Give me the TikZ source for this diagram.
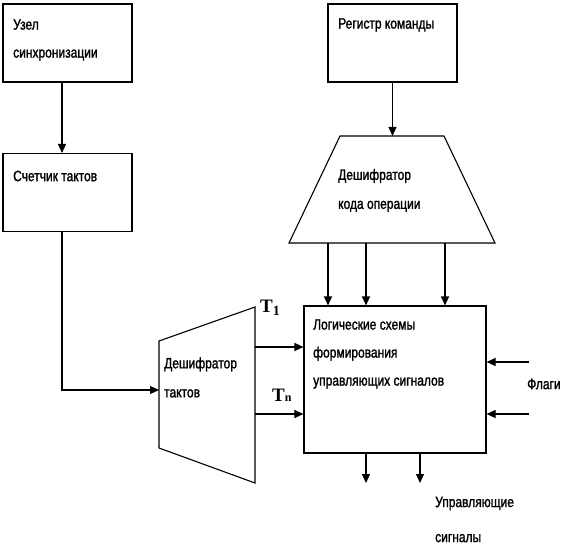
\documentclass[tikz,border=0pt]{standalone}
\usepackage{fontspec}
\setmainfont[FakeStretch=0.8,FakeBold=1.5]{Liberation Sans}
\newfontfamily\serifT{Liberation Serif}
\usetikzlibrary{arrows.meta}

\begin{document}
\begin{tikzpicture}[x=1pt,y=-1pt,
  box/.style={draw,line width=1.1pt,minimum width=129pt,minimum height=78pt,inner sep=0pt},
  lbl/.style={anchor=west,align=left,inner sep=0pt,font=\fontsize{15}{28}\selectfont},
  sig/.style={-{Triangle[length=9pt,width=8pt]},line width=1.1pt},
  tl/.style={anchor=west,inner sep=0pt,font=\serifT\bfseries\fontsize{19}{19}\selectfont}]
  \useasboundingbox (0,0) rectangle (580,548);
  % upper blocks
  \node[box] (sync) at (67.5,43) {};
  \node[box] (cnt) at (67.5,192.5) {};
  \node[box] (reg) at (392.5,43) {};
  \node[lbl] (syncL) at (13,40) {Узел\\синхронизации};
  \node[lbl] (cntL) at (13,176) {Счетчик тактов};
  \node[lbl] (regL) at (338,25) {Регистр команды};
  \draw[sig] ([xshift=-5.5pt]sync.south) -- ([xshift=-5.5pt]cnt.north);

  % decoder of the operation code
  \coordinate (dcTL) at (340,136);
  \coordinate (dcTR) at (444,136);
  \coordinate (dcBR) at (495,243);
  \coordinate (dcBL) at (289,243);
  \coordinate (dcT) at (392.5,136);
  \draw[line width=1.1pt] (dcTL) -- (dcTR) -- (dcBR) -- (dcBL) -- cycle;
  \node[lbl,font=\fontsize{15}{29}\selectfont] (dcL) at (338,190.5) {Дешифратор\\кода операции};
  \draw[sig] (reg.south) -- (dcT);

  % logic block
  \node[draw,line width=1.1pt,minimum width=182pt,minimum height=147pt] (logic) at (395,379.5) {};
  \node[lbl] (logicL) at (313,354) {Логические схемы\\формирования\\управляющих сигналов};
  \foreach \x [count=\i] in {328,366,445} {
    \coordinate (op\i) at (\x,243);
    \draw[sig] (op\i) -- (op\i |- logic.north);
  }

  % decoder of the clock cycles
  \coordinate (ckTL) at (159,341);
  \coordinate (ckTR) at (255,307);
  \coordinate (ckBR) at (255,483);
  \coordinate (ckBL) at (159,448);
  \coordinate (ckIn) at (159,390);
  \draw[line width=1.1pt] (ckTL) -- (ckTR) -- (ckBR) -- (ckBL) -- cycle;
  \node[lbl,font=\fontsize{15}{29}\selectfont] (ckL) at (164,377.5) {Дешифратор\\тактов};
  \draw[sig] ([xshift=-5.5pt]cnt.south) |- (ckIn);
  \coordinate (ck1) at (255,347);
  \coordinate (ckn) at (255,414);
  \draw[sig] (ck1) -- (ck1 -| logic.west);
  \draw[sig] (ckn) -- (ckn -| logic.west);
  \node[tl] (t1) at (260,308) {T\raisebox{-3pt}{\fontsize{14}{14}\selectfont 1}};
  \node[tl] (tn) at (272,395) {T\fontsize{12}{12}\selectfont n};

  % flags and outputs
  \coordinate (fl1) at (529,362);
  \coordinate (fl2) at (529,414);
  \draw[sig] (fl1) -- (fl1 -| logic.east);
  \draw[sig] (fl2) -- (fl2 -| logic.east);
  \node[lbl] (flL) at (527,384) {Флаги};
  \foreach \x [count=\i] in {366,420} {
    \coordinate (out\i) at (\x,483);
    \draw[sig] (out\i |- logic.south) -- (out\i);
  }
  \node[lbl,font=\fontsize{15}{35}\selectfont] (outL) at (435,519.5) {Управляющие\\сигналы};
\end{tikzpicture}
\end{document}
